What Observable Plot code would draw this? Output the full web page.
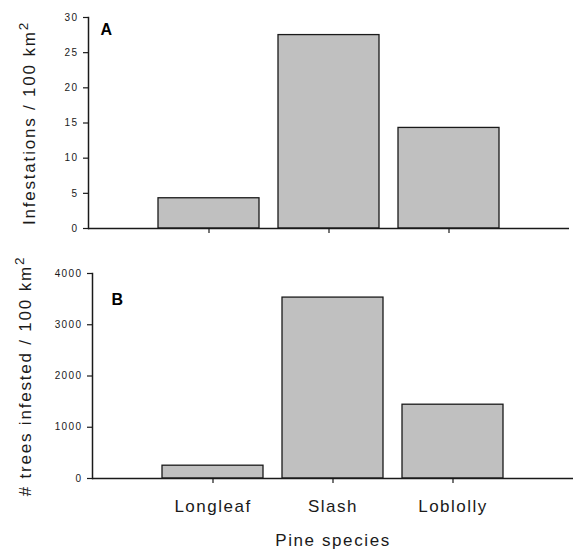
<!DOCTYPE html>
<html>
<head>
<meta charset="utf-8">
<script src="https://cdn.jsdelivr.net/npm/d3@7"></script>
<script src="https://cdn.jsdelivr.net/npm/@observablehq/plot@0.6"></script>
<style>
  html, body { margin: 0; padding: 0; background: #fff; }
  #chart svg { display: block; }
  #chart svg text { font-family: "Liberation Sans", Arial, sans-serif; }
  [aria-label="y-axis tick label"] text { letter-spacing: 1.4px; }
  [aria-label="x-axis tick label"] text { letter-spacing: 1.5px; }
  .ytitle text { letter-spacing: 1.8px; }
  .xtitle text { letter-spacing: 1.6px; }
</style>
</head>
<body>
<div id="chart"></div>
<script>
const species = ["Longleaf", "Slash", "Loblolly"];
const infestations = [4.3, 27.5, 14.3];
const treesInfested = [250, 3530, 1440];
const yTicksA = [0, 5, 10, 15, 20, 25, 30];
const yTicksB = [0, 1000, 2000, 3000, 4000];
const titleA = "Infestations / 100 km²";
const titleB = "# trees infested / 100 km²";
const xTitle = "Pine species";

const dataA = species.map((s, i) => ({species: s, value: infestations[i]}));
const dataB = species.map((s, i) => ({species: s, value: treesInfested[i]}));

const ink = "#1a1a1a";
const barFill = "#c0c0c0";

function panel({data, yDomain, yTicks, letter, title, height, marginTop, marginBottom, marginLeft, marginRight, titleDx, letterDx, letterDy, showX}) {
  const marks = [
    Plot.barY(data, {x: "species", y: "value", fill: barFill, stroke: ink, strokeWidth: 1.3}),
    Plot.ruleY([0], {stroke: ink, strokeWidth: 1.5}),
    Plot.frame({anchor: "left", stroke: ink, strokeWidth: 1.5}),
    Plot.axisY({ticks: yTicks, tickFormat: (d) => String(d), tickSize: 5, tickPadding: 5, fontSize: 10, color: ink, label: null, strokeWidth: 1.2}),
    Plot.axisX({tickSize: 5, tickPadding: 16, fontSize: 17, color: ink, label: null, strokeWidth: 1.2,
      tickFormat: showX ? (d) => d : () => ""}),
    Plot.text([letter], {frameAnchor: "top-left", text: (d) => d, dx: letterDx, dy: letterDy, lineAnchor: "top", textAnchor: "start", fontSize: 16, fontWeight: "bold", fill: "#000"}),
    Plot.text([title], {frameAnchor: "left", text: (d) => d, rotate: -90, dx: titleDx, fontSize: 17, fill: ink, lineAnchor: "middle", textAnchor: "middle", className: "ytitle"})
  ];
  if (showX) {
    marks.push(Plot.text([xTitle], {frameAnchor: "bottom", text: (d) => d, dy: 55, lineAnchor: "top", textAnchor: "middle", fontSize: 17, fill: ink, className: "xtitle"}));
  }
  const svg = Plot.plot({
    width: 573,
    height,
    marginTop, marginBottom, marginLeft, marginRight,
    x: {domain: species, paddingInner: 0.16, paddingOuter: 0.57, axis: null},
    y: {domain: yDomain, axis: null},
    marks
  });
  d3.select(svg).selectAll("text").filter(function() { return this.textContent.endsWith("km²"); })
    .each(function() {
      const t = d3.select(this);
      const s = this.textContent.slice(0, -1);
      t.text(s);
      t.append("tspan").attr("dy", "-0.5em").attr("font-size", "0.8em").text("2");
    });
  return svg;
}

const panelA = panel({
  data: dataA, yDomain: [0, 30], yTicks: yTicksA, letter: "A", title: titleA,
  height: 240, marginTop: 17, marginBottom: 12, marginLeft: 88, marginRight: 4,
  titleDx: -59, letterDx: 12, letterDy: 6, showX: false
});
const panelB = panel({
  data: dataB, yDomain: [0, 4000], yTicks: yTicksB, letter: "B", title: titleB,
  height: 317, marginTop: 33, marginBottom: 79, marginLeft: 92, marginRight: 0,
  titleDx: -67, letterDx: 19, letterDy: 20, showX: true
});
document.getElementById("chart").append(panelA, panelB);
</script>
</body>
</html>
